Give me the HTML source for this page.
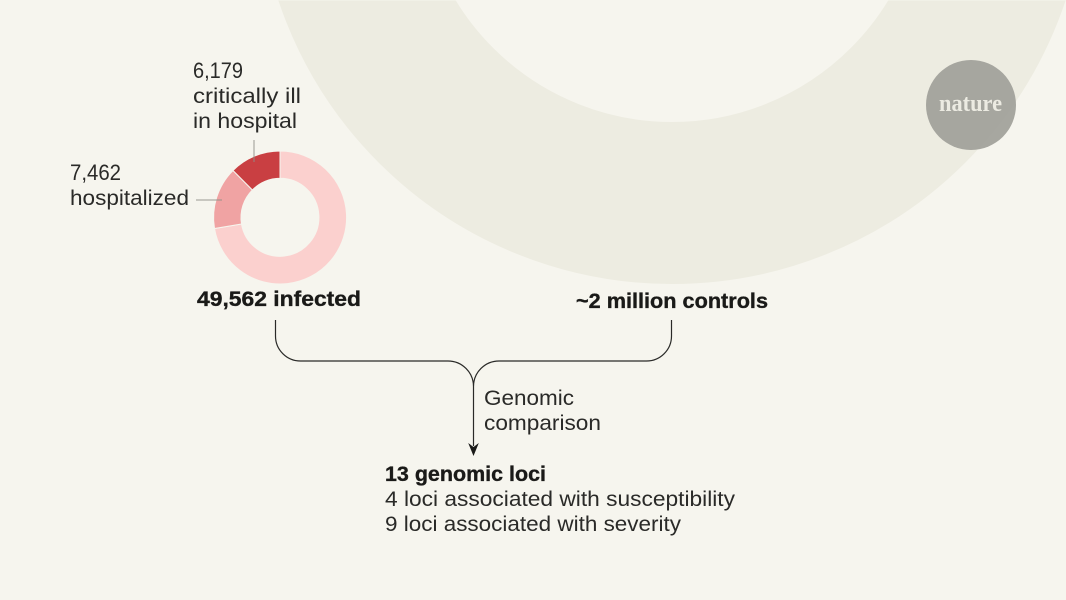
<!DOCTYPE html>
<html><head><meta charset="utf-8"><style>
html,body{margin:0;padding:0;background:#f6f5ee}
svg{display:block}
text{font-family:"Liberation Sans",sans-serif;font-size:21px;fill:#2a2a28}
.b{font-weight:bold;fill:#1a1a18;stroke:#1a1a18;stroke-width:.35}
.n{font-size:22.500px}
</style></head><body>
<svg width="1066" height="600" viewBox="0 0 1066 600" xmlns="http://www.w3.org/2000/svg">
<rect width="1066" height="600" fill="#f6f5ee"/>
<circle cx="672" cy="-131" r="334" fill="none" stroke="#edece1" stroke-width="162"/>
<rect x="0" y="0" width="1066" height="1" fill="#f6f5ee" fill-opacity=".5"/>
<circle cx="971" cy="105" r="45" fill="#a09f99" fill-opacity=".92"/>
<text x="939" y="111" textLength="63" lengthAdjust="spacingAndGlyphs" style="font-family:'Liberation Serif',serif;font-size:24px;font-weight:bold;fill:#ecebe2">nature</text>
<g stroke="#f6f5ee" stroke-width="1">
<path d="M280 151A66.500 66.500 0 1 1 214.500 228.500L241.500 224A39 39 0 1 0 280 178.300Z" fill="#fbd0ce"/>
<path d="M233 170.500A66.500 66.500 0 0 0 214.500 228.500L241.500 224A39 39 0 0 1 252.400 190Z" fill="#f0a3a3"/>
<path d="M280 151A66.500 66.500 0 0 0 233 170.500L252.400 190A39 39 0 0 1 280 178.300Z" fill="#c93f42"/>
</g>
<path d="M254 140V162M196 200H222" stroke="#8f8f88" stroke-opacity=".6" stroke-width="1.500" fill="none"/>
<text class="n" x="193" y="78" textLength="50" lengthAdjust="spacingAndGlyphs">6,179</text>
<text x="193" y="103" textLength="108" lengthAdjust="spacingAndGlyphs">critically ill</text>
<text x="193" y="128" textLength="104" lengthAdjust="spacingAndGlyphs">in hospital</text>
<text class="n" x="70" y="180" textLength="51" lengthAdjust="spacingAndGlyphs">7,462</text>
<text x="70" y="205" textLength="119" lengthAdjust="spacingAndGlyphs">hospitalized</text>
<text class="b" x="197" y="306" textLength="164" lengthAdjust="spacingAndGlyphs">49,562 infected</text>
<text class="b" x="576" y="308" textLength="192" lengthAdjust="spacingAndGlyphs">~2 million controls</text>
<path d="M275.500 320V336A25 25 0 0 0 300.500 361H448A25.500 25.500 0 0 1 473.500 386.500V446M671.500 320V336A25 25 0 0 1 646.500 361H499A25.500 25.500 0 0 0 473.500 386.500" fill="none" stroke="#2a2a28" stroke-width="1.200"/>
<path d="M468.200 443L473.500 447L478.800 443L473.500 456Z" fill="#1a1a18"/>
<text x="484" y="405" textLength="90" lengthAdjust="spacingAndGlyphs">Genomic</text>
<text x="484" y="430" textLength="117" lengthAdjust="spacingAndGlyphs">comparison</text>
<text class="b" x="385" y="481" textLength="161" lengthAdjust="spacingAndGlyphs">13 genomic loci</text>
<text x="385" y="506" textLength="350" lengthAdjust="spacingAndGlyphs">4 loci associated with susceptibility</text>
<text x="385" y="531" textLength="296" lengthAdjust="spacingAndGlyphs">9 loci associated with severity</text>
</svg>
</body></html>
